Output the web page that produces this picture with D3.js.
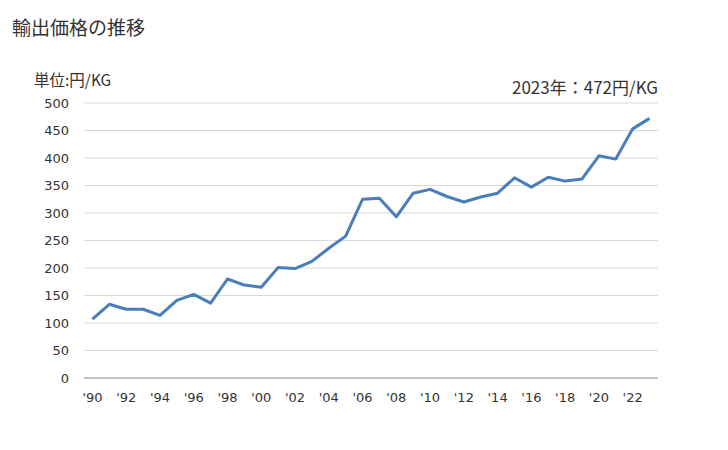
<!DOCTYPE html>
<html>
<head>
<meta charset="utf-8">
<script src="https://cdn.jsdelivr.net/npm/d3@7"></script>
<style>
  body { margin: 0; background: #fff; }
  svg text { font-family: "DejaVu Sans", Verdana, sans-serif; fill: #333; }
</style>
</head>
<body>
<div id="chart"></div>
<script>
let width = 728;
let height = 450;

// data
const years = d3.range(1990, 2024);
const prices = [107, 134, 125, 125, 114, 141, 152, 136, 180, 169,
                165, 201, 199, 212, 236, 258, 325, 327, 293, 336,
                343, 330, 320, 329, 336, 364, 347, 365, 358, 362,
                404, 398, 453, 472];
const yTicks = [0, 50, 100, 150, 200, 250, 300, 350, 400, 450, 500];
const xLabels = years.filter(y => y % 2 === 0);

let margin = {left: 84, right: 70, top: 103, bottom: 72};

let svg = d3.select('#chart').append('svg').attr('width', width).attr('height', height);

let x = d3.scaleBand().domain(years).range([margin.left, width - margin.right]);
let y = d3.scaleLinear().domain([0, 500]).range([height - margin.bottom, margin.top]);

// gridlines
svg.append('g').selectAll('line').data(yTicks.slice(1)).join('line')
  .attr('x1', margin.left).attr('x2', width - margin.right)
  .attr('y1', d => y(d)).attr('y2', d => y(d))
  .style('stroke', '#d9d9d9').style('stroke-width', 1);

// x axis line
svg.append('line')
  .attr('x1', margin.left).attr('x2', width - margin.right)
  .attr('y1', y(0)).attr('y2', y(0))
  .style('stroke', '#888').style('stroke-width', 1);

// y tick labels
svg.append('g').selectAll('text').data(yTicks).join('text')
  .attr('x', 69).attr('y', d => y(d)).attr('dy', '0.35em')
  .attr('text-anchor', 'end').style('font-size', '13px')
  .text(d => d);

// x tick labels
svg.append('g').selectAll('text').data(xLabels).join('text')
  .attr('x', d => x(d) + x.bandwidth() / 2).attr('y', y(0) + 24)
  .attr('text-anchor', 'middle').style('font-size', '13px')
  .text(d => "'" + String(d).slice(2));

// line
let lineGenerator = d3.line()
  .x((d, i) => x(years[i]) + x.bandwidth() / 2)
  .y(d => y(d));

svg.append('path').attr('d', lineGenerator(prices))
  .style('fill', 'none').style('stroke', '#4a7ebb').style('stroke-width', 3)
  .style('stroke-linejoin', 'round');

// titles
svg.append('text').attr('x', 12).attr('y', 35)
  .style('font-size', '19px').style('font-family', '"Noto Sans CJK JP", sans-serif')
  .text('輸出価格の推移');

svg.append('text').attr('x', 34).attr('y', 86)
  .style('font-size', '15.5px').style('font-family', '"Noto Sans CJK JP", sans-serif')
  .text('単位:円/KG');

svg.append('text').attr('x', 658).attr('y', 94).attr('text-anchor', 'end')
  .style('font-size', '17px').style('font-family', '"Noto Sans CJK JP", sans-serif')
  .text('2023年：' + prices[prices.length - 1] + '円/KG');
</script>
</body>
</html>
